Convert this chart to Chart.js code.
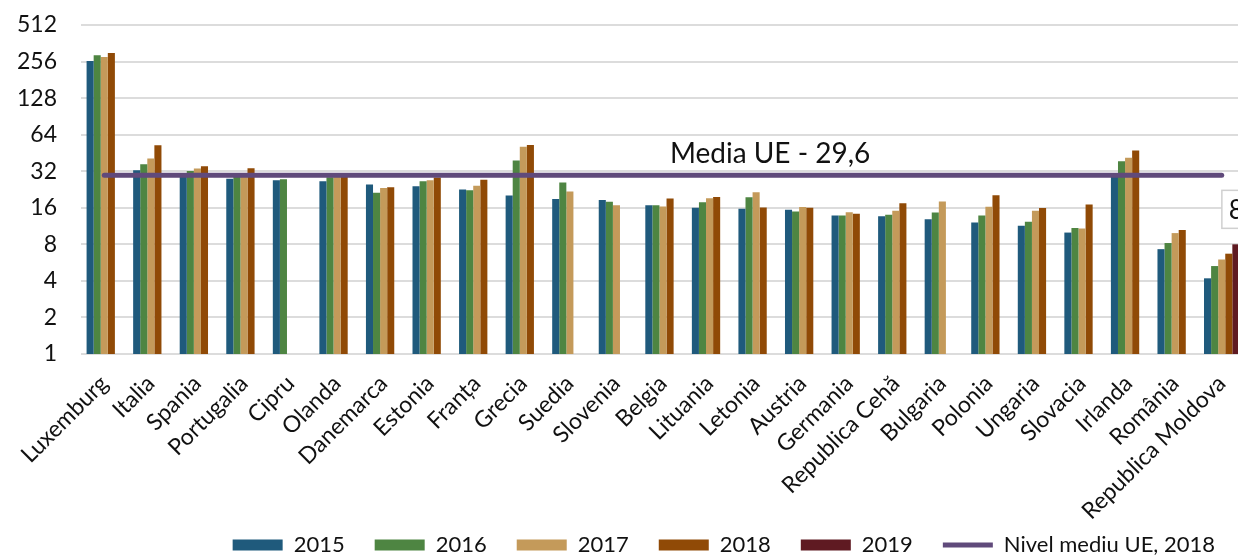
<!DOCTYPE html>
<html lang="ro">

<head>
	<meta charset="UTF-8">
	<title>Media UE</title>
	<script src="https://cdn.jsdelivr.net/npm/chart.js@4/dist/chart.umd.min.js"></script>
	<style>
		body { margin: 0; overflow: hidden; background: #fff; }
	</style>
</head>

<body>
	<div id="container" style="width: 1245px; height: 556px;">
		<canvas id="chart" width="1245" height="556"></canvas>
	</div>

	<script>
		const countries = ['Luxemburg', 'Italia', 'Spania', 'Portugalia', 'Cipru', 'Olanda', 'Danemarca', 'Estonia',
			'Franța', 'Grecia', 'Suedia', 'Slovenia', 'Belgia', 'Lituania', 'Letonia', 'Austria', 'Germania',
			'Republica Cehă', 'Bulgaria', 'Polonia', 'Ungaria', 'Slovacia', 'Irlanda', 'România', 'Republica Moldova'];

		const v2015 = [259, 32.6, 29.2, 27.7, 27.0, 26.4, 24.9, 24.1, 22.6, 20.2, 18.9, 18.5, 16.8, 16.0, 15.7, 15.4,
			13.8, 13.6, 12.9, 12.1, 11.4, 10.0, 28.8, 7.3, 4.2];
		const v2016 = [288, 36.6, 32.2, 29.0, 27.5, 28.6, 21.3, 26.5, 22.3, 39.2, 25.8, 17.9, 16.8, 17.8, 19.5, 14.9,
			13.8, 14.0, 14.6, 13.8, 12.3, 10.9, 38.7, 8.2, 5.3];
		const v2017 = [279, 40.8, 33.7, 29.5, null, 28.8, 23.3, 27.0, 24.3, 50.8, 21.8, 16.8, 16.4, 19.2, 21.5, 16.2,
			14.7, 15.1, 18.0, 16.3, 15.1, 10.8, 41.3, 9.9, 6.0];
		const v2018 = [301, 52.4, 35.2, 33.9, null, 29.2, 23.6, 28.4, 27.2, 52.7, null, null, 19.1, 19.6, 16.1, 16.0,
			14.3, 17.4, null, 20.3, 15.9, 17.0, 47.4, 10.5, 6.7];
		const v2019 = [null, null, null, null, null, null, null, null, null, null, null, null, null, null, null, null,
			null, null, null, null, null, null, null, null, 8.0];
		const mediaUE = 29.6;
		const yTicks = [1, 2, 4, 8, 16, 32, 64, 128, 256, 512];

		const font = 'Lato';

		function bars(label, data, color) {
			return {
				type: 'bar',
				label: label,
				data: data,
				backgroundColor: color,
				borderWidth: 0,
				barPercentage: 1,
				categoryPercentage: 0.76,
				order: 1
			};
		}

		// text over the EU line and the cut-off value box at the right edge
		const notes = {
			id: 'notes',
			afterDatasetsDraw(chart) {
				const ctx = chart.ctx;
				const x = chart.scales.x;
				const y = chart.scales.y;
				const lineY = y.getPixelForValue(mediaUE);
				ctx.save();
				ctx.font = '28px ' + font;
				ctx.fillStyle = '#111';
				ctx.textAlign = 'center';
				ctx.textBaseline = 'alphabetic';
				ctx.fillText('Media UE - ' + String(mediaUE).replace('.', ','), x.getPixelForValue(14) + 14, lineY - 12);

				const bar = chart.getDatasetMeta(4).data[24];
				const bx = bar.x - 14;
				const by = bar.y - 54;
				ctx.fillStyle = '#fff';
				ctx.fillRect(bx, by, 44, 38);
				ctx.strokeStyle = '#d0d0d0';
				ctx.lineWidth = 1.5;
				ctx.strokeRect(bx, by, 44, 38);
				ctx.font = '26px ' + font;
				ctx.fillStyle = '#111';
				ctx.textAlign = 'left';
				ctx.textBaseline = 'middle';
				ctx.fillText(v2019[24].toFixed(1).replace('.', ','), bx + 7, by + 20);
				ctx.restore();
			}
		};

		const ctx = document.getElementById('chart').getContext('2d');
		new Chart(ctx, {
			data: {
				labels: countries,
				datasets: [
					bars('2015', v2015, '#1f5a7c'),
					bars('2016', v2016, '#4e8542'),
					bars('2017', v2017, '#c49a5a'),
					bars('2018', v2018, '#904a06'),
					bars('2019', v2019, '#5f1a22'),
					{
						type: 'line',
						label: 'Nivel mediu UE, 2018',
						data: countries.map(() => mediaUE),
						borderColor: '#604a7b',
						backgroundColor: '#604a7b',
						borderWidth: 5,
						borderCapStyle: 'round',
						pointRadius: 0,
						order: 0
					}
				]
			},
			options: {
				responsive: false,
				animation: false,
				layout: {
					padding: { top: 25, left: 17, right: 0, bottom: -10 }
				},
				plugins: {
					tooltip: { enabled: false },
					legend: {
						position: 'bottom',
						align: 'end',
						labels: {
							font: { family: font, size: 22 },
							color: '#111',
							usePointStyle: true,
							pointStyleWidth: 50,
							boxHeight: 11,
							padding: 30,
							sort: (a, b) => a.datasetIndex - b.datasetIndex,
							generateLabels(chart) {
								const items = Chart.defaults.plugins.legend.labels.generateLabels(chart);
								items.forEach(it => {
									it.pointStyle = it.datasetIndex === 5 ? 'line' : 'rect';
								});
								return items;
							}
						}
					}
				},
				scales: {
					x: {
						grid: { display: false },
						border: { display: false },
						afterFit(scale) {
							// let the rotated names run past the plot edges and down
							// toward the legend, as in the original
							scale.paddingLeft = 0;
							scale.paddingRight = 0;
							scale.height = 150;
							scale._computeLabelArea = () => null;
						},
						ticks: {
							autoSkip: false,
							maxRotation: 45,
							minRotation: 45,
							padding: 8,
							color: '#111',
							font: { family: font, size: 23 }
						}
					},
					y: {
						type: 'logarithmic',
						min: 1,
						max: 512,
						afterBuildTicks(scale) {
							scale.ticks = yTicks.map(v => ({ value: v }));
						},
						afterFit(scale) {
							scale.width = 64;
							scale.paddingTop = 0;
							scale.paddingBottom = 0;
						},
						grid: { color: '#dcdcdc', lineWidth: 2, drawTicks: false },
						border: { display: false },
						ticks: {
							padding: 24,
							color: '#111',
							font: { family: font, size: 23 },
							callback: v => String(v)
						}
					}
				}
			},
			plugins: [notes]
		});
	</script>

</body>

</html>
